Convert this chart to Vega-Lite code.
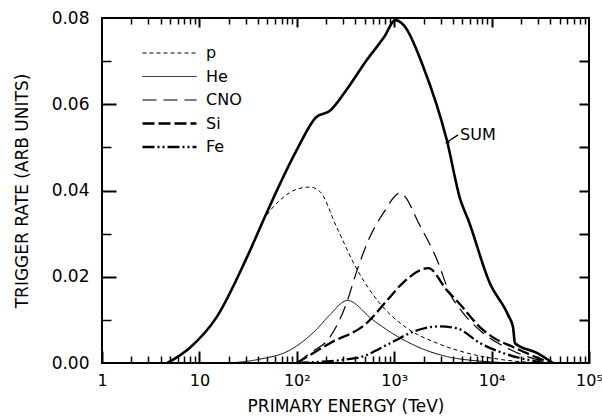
{
  "$schema": "https://vega.github.io/schema/vega-lite/v6.json",
  "width": 487,
  "height": 345,
  "autosize": {"type": "none"},
  "padding": {"left": 102, "top": 18, "right": 13, "bottom": 56},
  "background": "white",
  "config": {
    "view": {"stroke": "black", "strokeWidth": 2, "fill": null},
    "axis": {"zindex": 1, "domain": false, "tickColor": "black", "labelColor": "black", "titleColor": "black", "labelFont": "DejaVu Sans", "titleFont": "DejaVu Sans", "grid": false, "titleFontWeight": "normal", "tickWidth": 2, "labelOverlap": false, "labelFlush": false},
    "legend": {"orient": "none", "legendX": 39, "legendY": 27, "title": null, "symbolType": "stroke", "symbolSize": 2916, "symbolStrokeColor": "black", "labelFont": "DejaVu Sans", "labelFontSize": 16, "labelColor": "black", "labelOffset": 8, "clipHeight": 16, "rowPadding": 7.5, "padding": 0}
  },
  "datasets": {
    "sum": [
      {"E": 4.68, "rate": 0}, {"E": 7.94, "rate": 0.0035}, {"E": 15.1, "rate": 0.0107}, {"E": 30.9, "rate": 0.0246},
      {"E": 49.0, "rate": 0.0348}, {"E": 100, "rate": 0.0494}, {"E": 158, "rate": 0.057}, {"E": 219, "rate": 0.0585},
      {"E": 316, "rate": 0.063}, {"E": 525, "rate": 0.0703}, {"E": 794, "rate": 0.0757}, {"E": 1023, "rate": 0.0795},
      {"E": 1259, "rate": 0.0783}, {"E": 1995, "rate": 0.0686}, {"E": 3467, "rate": 0.0517}, {"E": 4786, "rate": 0.0378},
      {"E": 5754, "rate": 0.0332}, {"E": 9550, "rate": 0.0186}, {"E": 14791, "rate": 0.0111}, {"E": 16596, "rate": 0.0083},
      {"E": 17378, "rate": 0.0046}, {"E": 29512, "rate": 0.0023}, {"E": 42658, "rate": 0}
    ],
    "comp": [
      {"s": "p", "E": 4.68, "rate": 0}, {"s": "p", "E": 7.94, "rate": 0.0035}, {"s": "p", "E": 15.1, "rate": 0.0107},
      {"s": "p", "E": 30.9, "rate": 0.0245}, {"s": "p", "E": 44.7, "rate": 0.0328}, {"s": "p", "E": 67.6, "rate": 0.0378},
      {"s": "p", "E": 100, "rate": 0.0403}, {"s": "p", "E": 136, "rate": 0.0408}, {"s": "p", "E": 174, "rate": 0.0397},
      {"s": "p", "E": 251, "rate": 0.032}, {"s": "p", "E": 417, "rate": 0.0216}, {"s": "p", "E": 708, "rate": 0.0139},
      {"s": "p", "E": 1349, "rate": 0.0081}, {"s": "p", "E": 2754, "rate": 0.0046}, {"s": "p", "E": 5623, "rate": 0.0023},
      {"s": "p", "E": 12589, "rate": 0.0008}, {"s": "p", "E": 31623, "rate": 0},
      {"s": "He", "E": 20.4, "rate": 0}, {"s": "He", "E": 39.8, "rate": 0.0008}, {"s": "He", "E": 85.1, "rate": 0.003},
      {"s": "He", "E": 158, "rate": 0.0077}, {"s": "He", "E": 219, "rate": 0.0112}, {"s": "He", "E": 331, "rate": 0.0145},
      {"s": "He", "E": 603, "rate": 0.0100}, {"s": "He", "E": 1072, "rate": 0.0062}, {"s": "He", "E": 2344, "rate": 0.0026},
      {"s": "He", "E": 3467, "rate": 0.0015}, {"s": "He", "E": 7943, "rate": 0.0004}, {"s": "He", "E": 19953, "rate": 0},
      {"s": "CNO", "E": 100, "rate": 0}, {"s": "CNO", "E": 141, "rate": 0.0025}, {"s": "CNO", "E": 219, "rate": 0.006},
      {"s": "CNO", "E": 324, "rate": 0.0139}, {"s": "CNO", "E": 417, "rate": 0.0216}, {"s": "CNO", "E": 562, "rate": 0.0292},
      {"s": "CNO", "E": 776, "rate": 0.0348}, {"s": "CNO", "E": 1148, "rate": 0.0394}, {"s": "CNO", "E": 1862, "rate": 0.0316},
      {"s": "CNO", "E": 2754, "rate": 0.0239}, {"s": "CNO", "E": 3715, "rate": 0.0162}, {"s": "CNO", "E": 5012, "rate": 0.0118},
      {"s": "CNO", "E": 7943, "rate": 0.0072}, {"s": "CNO", "E": 15849, "rate": 0.003}, {"s": "CNO", "E": 39811, "rate": 0},
      {"s": "Si", "E": 100, "rate": 0}, {"s": "Si", "E": 219, "rate": 0.0046}, {"s": "Si", "E": 525, "rate": 0.0093},
      {"s": "Si", "E": 851, "rate": 0.0146}, {"s": "Si", "E": 1230, "rate": 0.0186}, {"s": "Si", "E": 2239, "rate": 0.0220},
      {"s": "Si", "E": 3467, "rate": 0.0169}, {"s": "Si", "E": 4786, "rate": 0.0135}, {"s": "Si", "E": 7586, "rate": 0.0083},
      {"s": "Si", "E": 10233, "rate": 0.006}, {"s": "Si", "E": 16596, "rate": 0.0037}, {"s": "Si", "E": 39811, "rate": 0},
      {"s": "Fe", "E": 100, "rate": 0}, {"s": "Fe", "E": 417, "rate": 0.0012}, {"s": "Fe", "E": 912, "rate": 0.0046},
      {"s": "Fe", "E": 1549, "rate": 0.0072}, {"s": "Fe", "E": 2951, "rate": 0.0085}, {"s": "Fe", "E": 4467, "rate": 0.008},
      {"s": "Fe", "E": 7586, "rate": 0.0046}, {"s": "Fe", "E": 13183, "rate": 0.0023}, {"s": "Fe", "E": 35481, "rate": 0}
    ],
    "lab": [{"E": 4740, "rate": 0.0528, "t": "SUM"}],
    "arrow": [{"E": 3483, "rate": 0.0512, "E2": 4519, "rate2": 0.0529}]
  },
  "layer": [
    {
      "data": {"name": "sum"},
      "mark": {"type": "line", "interpolate": "monotone", "strokeWidth": 2.6, "color": "black"},
      "encoding": {
        "x": {"field": "E", "type": "quantitative", "scale": {"type": "log", "domain": [1, 100000], "nice": false},
          "axis": {"orient": "bottom", "values": [1, 10, 100, 1000, 10000, 100000],
            "labelExpr": "datum.value < 5 ? '1' : datum.value < 50 ? '10' : datum.value < 500 ? '10²' : datum.value < 5000 ? '10³' : datum.value < 50000 ? '10⁴' : '10⁵'",
            "ticks": false, "tickSize": 0, "labelPadding": 9, "labelFontSize": 16, "title": "PRIMARY ENERGY (TeV)", "titleFontSize": 17, "titlePadding": 10}},
        "y": {"field": "rate", "type": "quantitative", "scale": {"domain": [0, 0.08], "nice": false},
          "axis": {"orient": "left", "values": [0, 0.02, 0.04, 0.06, 0.08], "format": ".2f", "ticks": false, "tickSize": 0, "labelPadding": 13, "labelFontSize": 17,
            "title": "TRIGGER RATE (ARB UNITS)", "titleFontSize": 17, "titlePadding": 20}}
      }
    },
    {
      "data": {"name": "comp"},
      "mark": {"type": "line", "interpolate": "monotone", "color": "black"},
      "encoding": {
        "x": {"field": "E", "type": "quantitative",
          "axis": {"orient": "bottom", "values": [1, 10, 100, 1000, 10000, 100000], "labels": false, "tickSize": 12, "offset": -12, "title": null}},
        "y": {"field": "rate", "type": "quantitative",
          "axis": {"orient": "left", "values": [0.02, 0.04, 0.06], "labels": false, "tickSize": 14, "offset": -14, "title": null}},
        "strokeDash": {"field": "s", "type": "ordinal", "scale": {"domain": ["p", "He", "CNO", "Si", "Fe"], "range": [[4, 3], [1, 0], [14, 7], [12, 4], [12, 3, 2, 3, 2, 3]]}},
        "strokeWidth": {"field": "s", "type": "ordinal", "scale": {"type": "ordinal", "domain": ["p", "He", "CNO", "Si", "Fe"], "range": [1, 1, 1.2, 2.3, 2.3]}}
      }
    },
    {
      "data": {"name": "lab"},
      "mark": {"type": "text", "align": "left", "baseline": "middle", "font": "DejaVu Sans", "fontSize": 16, "color": "black"},
      "encoding": {
        "x": {"field": "E", "type": "quantitative",
          "axis": {"orient": "bottom", "values": [2,3,4,5,6,7,8,9,20,30,40,50,60,70,80,90,200,300,400,500,600,700,800,900,2000,3000,4000,5000,6000,7000,8000,9000,20000,30000,40000,50000,60000,70000,80000,90000],
            "labels": false, "tickSize": 7, "offset": -7, "tickWidth": 1.5, "title": null}},
        "y": {"field": "rate", "type": "quantitative",
          "axis": {"orient": "left", "values": [0.01, 0.03, 0.05, 0.07], "labels": false, "tickSize": 9, "offset": -9, "tickWidth": 1.5, "title": null}},
        "text": {"field": "t"}
      }
    },
    {
      "data": {"name": "arrow"},
      "mark": {"type": "rule", "color": "black", "strokeWidth": 1.3},
      "encoding": {
        "x": {"field": "E", "type": "quantitative",
          "axis": {"orient": "top", "values": [10, 100, 1000, 10000], "labels": false, "tickSize": 9, "offset": -9, "title": null}},
        "y": {"field": "rate", "type": "quantitative",
          "axis": {"orient": "right", "values": [0.01, 0.02, 0.03, 0.04, 0.05, 0.06, 0.07], "labels": false, "tickSize": 10, "offset": -10, "title": null}},
        "x2": {"field": "E2"},
        "y2": {"field": "rate2"}
      }
    },
    {
      "data": {"name": "arrow"},
      "mark": {"type": "point", "shape": "triangle-up", "filled": true, "color": "black", "size": 22, "angle": 238, "opacity": 1},
      "encoding": {
        "x": {"field": "E", "type": "quantitative",
          "axis": {"orient": "top", "values": [2,3,4,5,6,7,8,9,20,30,40,50,60,70,80,90,200,300,400,500,600,700,800,900,2000,3000,4000,5000,6000,7000,8000,9000,20000,30000,40000,50000,60000,70000,80000,90000],
            "labels": false, "tickSize": 6, "offset": -6, "tickWidth": 1.5, "title": null}},
        "y": {"field": "rate", "type": "quantitative", "axis": null}
      }
    }
  ],
  "resolve": {"axis": {"x": "independent", "y": "independent"}}
}
